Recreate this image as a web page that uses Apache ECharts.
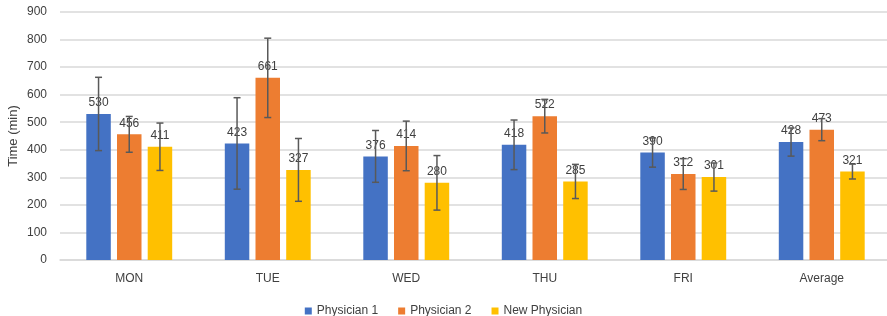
<!DOCTYPE html>
<html><head><meta charset="utf-8">
<script src="https://cdn.jsdelivr.net/npm/echarts@6/dist/echarts.min.js"></script>
<style>html,body{margin:0;padding:0;background:#fff}#c{width:887px;height:316px}</style>
</head><body><div id="c"></div>
<script>
const categories = ['MON','TUE','WED','THU','FRI','Average'];
const seriesNames = ['Physician 1','Physician 2','New Physician'];
const physician1 = [530, 423, 376, 418, 390, 428];
const physician2 = [456, 661, 414, 522, 312, 473];
const newPhysician = [411, 327, 280, 285, 301, 321];
const err1 = [133, 166, 94, 90, 53, 51];
const err2 = [65, 144, 90, 61, 56, 40];
const errNew = [86, 114, 99, 62, 51, 27];
const yTicks = [0,100,200,300,400,500,600,700,800,900];

const colors = ['#4472C4','#ED7D31','#FFC000'];
const BAR_W = 24.5, GAP = 6.2;
const values = [physician1, physician2, newPhysician];
const errs = [err1, err2, errNew];

const chart = echarts.init(document.getElementById('c'));
const barSeries = values.map((v,i)=>({
  name: seriesNames[i], type:'bar', data:v, barWidth:BAR_W, barGap:(GAP/BAR_W*100)+'%',
  itemStyle:{color:colors[i]},
  label:{show:true, position:'top', distance:5, color:'#404040', fontSize:12, fontFamily:'Liberation Sans'},
  z:2
}));
const errSeries = values.map((v,i)=>({
  type:'custom', name: seriesNames[i]+' err', silent:true, z:5,
  data: v.map((val,j)=>[j, val - errs[i][j], val + errs[i][j]]),
  renderItem: function(params, api){
    const off = (i-1)*(BAR_W+GAP);
    const lo = api.coord([api.value(0), api.value(1)]);
    const hi = api.coord([api.value(0), api.value(2)]);
    const x = lo[0] + off;
    const cap = 3.5;
    const st = {stroke:'#595959', lineWidth:1.5};
    return {type:'group', children:[
      {type:'line', shape:{x1:x,y1:lo[1],x2:x,y2:hi[1]}, style:st},
      {type:'line', shape:{x1:x-cap,y1:lo[1],x2:x+cap,y2:lo[1]}, style:st},
      {type:'line', shape:{x1:x-cap,y1:hi[1],x2:x+cap,y2:hi[1]}, style:st}
    ]};
  }
}));
chart.setOption({
  animation:false,
  textStyle:{fontFamily:'Liberation Sans'},
  grid:{left:60, right:-4, top:12, bottom:56, containLabel:false, outerBoundsMode:'none'},
  legend:{top:300, data:seriesNames, icon:'rect', itemWidth:7, itemHeight:7, itemGap:20,
    textStyle:{color:'#404040', fontSize:12}},
  xAxis:{type:'category', data:categories,
    axisLine:{lineStyle:{color:'#d9d9d9', width:1.5}}, axisTick:{show:false},
    axisLabel:{color:'#404040', fontSize:12, margin:13}},
  yAxis:{type:'value', min:yTicks[0], max:yTicks[yTicks.length-1], interval:100,
    name:'Time (min)', nameLocation:'middle', nameGap:40, nameRotate:90, nameMoveOverlap:false,
    nameTextStyle:{color:'#404040', fontSize:13},
    axisLine:{show:false}, axisTick:{show:false},
    axisLabel:{color:'#404040', fontSize:12, margin:13},
    splitLine:{lineStyle:{color:'#d9d9d9', width:1.5}}},
  series: barSeries.concat(errSeries)
});
</script></body></html>
